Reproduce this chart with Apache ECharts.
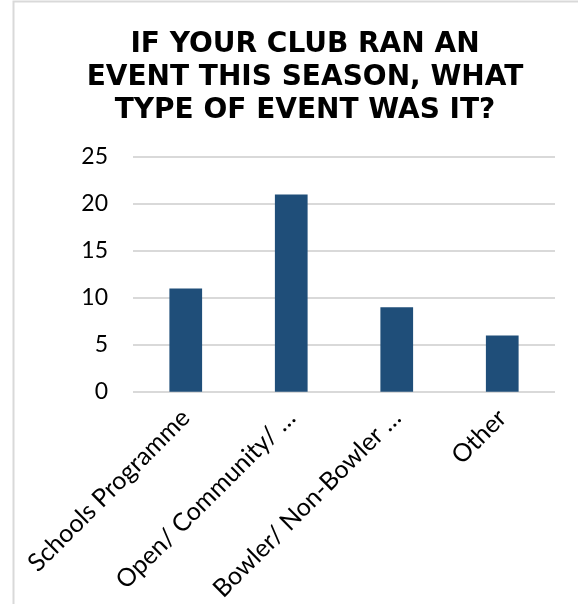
<!DOCTYPE html>
<html>
<head>
<meta charset="utf-8">
<script src="https://cdn.jsdelivr.net/npm/echarts@6/dist/echarts.min.js"></script>
<style>
  html, body { margin: 0; padding: 0; background: #fff; }
  #chart { width: 578px; height: 604px; }
</style>
</head>
<body>
<div id="chart"></div>
<script>
const categories = ['Schools Programme', 'Open/ Community/ …', 'Bowler/ Non-Bowler …', 'Other'];
const counts = [11, 21, 9, 6];
const titleText = 'IF YOUR CLUB RAN AN\nEVENT THIS SEASON, WHAT\nTYPE OF EVENT WAS IT?';

const chart = echarts.init(document.getElementById('chart'));
chart.setOption({
  animation: false,
  graphic: [{
    type: 'rect',
    shape: { x: 13.5, y: 1.5, width: 570, height: 610 },
    style: { fill: 'none', stroke: '#d9d9d9', lineWidth: 2 }
  }],
  title: {
    text: titleText,
    left: 300,
    top: 23,
    textAlign: 'center',
    textStyle: {
      fontFamily: 'DejaVu Sans',
      fontWeight: 'bold',
      fontSize: 28,
      lineHeight: 33,
      color: '#000'
    }
  },
  grid: { left: 133, right: 23, top: 157, bottom: 212 },
  xAxis: {
    type: 'category',
    data: categories,
    axisLine: { show: false },
    axisTick: { show: false },
    axisLabel: {
      rotate: 45,
      interval: 0,
      margin: 22,
      fontFamily: 'Lato',
      fontSize: 25,
      color: '#000'
    }
  },
  yAxis: {
    type: 'value',
    min: 0,
    max: 25,
    interval: 5,
    axisLabel: {
      margin: 25,
      fontFamily: 'Lato',
      fontSize: 23,
      color: '#000'
    },
    splitLine: { lineStyle: { color: '#d9d9d9', width: 2 } }
  },
  series: [{
    type: 'bar',
    data: counts,
    barWidth: '31%',
    itemStyle: { color: '#1f4e79' }
  }]
});
</script>
</body>
</html>
